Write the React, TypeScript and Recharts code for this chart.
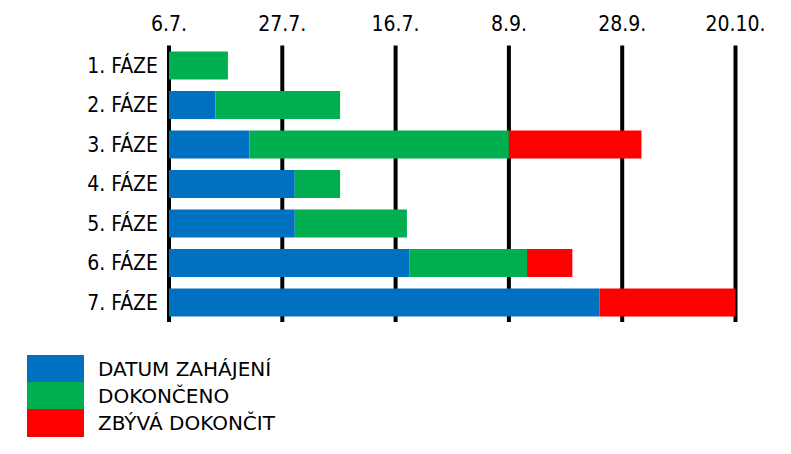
import { BarChart, Bar, XAxis, YAxis, CartesianGrid } from 'recharts';

const phases = ['1. FÁZE', '2. FÁZE', '3. FÁZE', '4. FÁZE', '5. FÁZE', '6. FÁZE', '7. FÁZE'];
// values in grid intervals (one interval = distance between two date lines)
const startValues = [0, 0.41, 0.71, 1.11, 1.11, 2.12, 3.8];
const doneValues = [0.52, 1.1, 2.29, 0.4, 0.99, 1.04, 0];
const remainingValues = [0, 0, 1.17, 0, 0, 0.4, 1.2];
const tickLabels = ['6.7.', '27.7.', '16.7.', '8.9.', '28.9.', '20.10.'];
const seriesNames = ['DATUM ZAHÁJENÍ', 'DOKONČENO', 'ZBÝVÁ DOKONČIT'];
const seriesColors = ['#0070C0', '#00B050', '#FF0000'];

const data = phases.map((phase, i) => ({
  phase,
  start: startValues[i],
  done: doneValues[i],
  remaining: remainingValues[i],
}));

const ticks = tickLabels.map((_, i) => i);

const App = () => {
  return (
    <div style={{ position: 'relative', width: 791, height: 454, margin: -8, background: '#fff' }}>
      <BarChart
        width={791}
        height={454}
        data={data}
        layout="vertical"
        margin={{ top: 0, right: 55.5, left: 0, bottom: 132 }}
        barSize={28}
      >
        <XAxis
          type="number"
          orientation="top"
          domain={[0, 5]}
          ticks={ticks}
          tickFormatter={(v) => tickLabels[v]}
          axisLine={false}
          tickLine={false}
          tickSize={0}
          height={45.5}
          tickMargin={14.5}
          tick={{ fill: '#000', fontSize: 21, fontFamily: 'DejaVu Sans Condensed' }}
        />
        <YAxis
          type="category"
          dataKey="phase"
          width={169}
          axisLine={false}
          tickLine={false}
          tickSize={0}
          tickMargin={11}
          tick={{ fill: '#000', fontSize: 21, fontFamily: 'DejaVu Sans Condensed' }}
        />
        <Bar dataKey="start" stackId="a" fill={seriesColors[0]} isAnimationActive={false} />
        <Bar dataKey="done" stackId="a" fill={seriesColors[1]} isAnimationActive={false} />
        <Bar dataKey="remaining" stackId="a" fill={seriesColors[2]} isAnimationActive={false} />
        <CartesianGrid horizontal={false} stroke="#000" strokeWidth={4} />
      </BarChart>
      <div style={{ position: 'absolute', left: 27, top: 355, fontFamily: 'DejaVu Sans', fontSize: 20 }}>
        {seriesNames.map((name, i) => (
          <div key={name} style={{ display: 'flex', alignItems: 'center', height: 27.2 }}>
            <div style={{ width: 57, height: 27.2, background: seriesColors[i] }} />
            <span style={{ marginLeft: 14, color: '#000' }}>{name}</span>
          </div>
        ))}
      </div>
    </div>
  );
};

export default App;
